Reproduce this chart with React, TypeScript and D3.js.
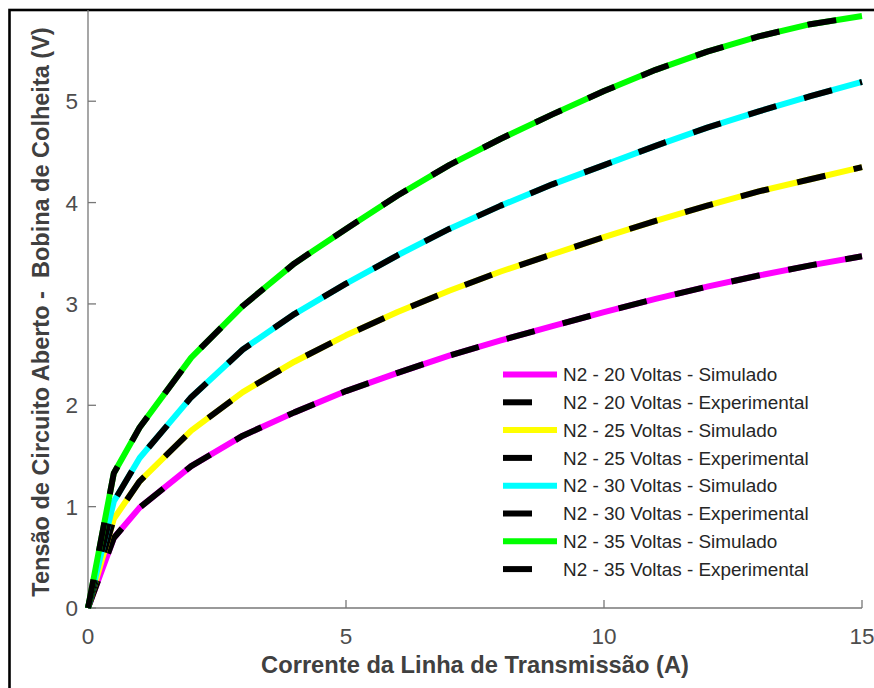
import React from "react";
import * as d3 from "d3";

const currents = [0, 0.5, 1, 2, 3, 4, 5, 6, 7, 8, 9, 10, 11, 12, 13, 14, 15];

const sim20 = [0, 0.69, 0.99, 1.4, 1.7, 1.93, 2.14, 2.32, 2.49, 2.64, 2.78, 2.92, 3.05, 3.17, 3.28, 3.38, 3.47];
const exp20 = [0, 0.69, 0.99, 1.4, 1.7, 1.93, 2.14, 2.32, 2.49, 2.64, 2.78, 2.92, 3.05, 3.17, 3.28, 3.38, 3.47];
const sim25 = [0, 0.88, 1.25, 1.75, 2.13, 2.43, 2.69, 2.92, 3.13, 3.32, 3.49, 3.66, 3.82, 3.97, 4.11, 4.23, 4.35];
const exp25 = [0, 0.88, 1.25, 1.75, 2.13, 2.43, 2.69, 2.92, 3.13, 3.32, 3.49, 3.66, 3.82, 3.97, 4.11, 4.23, 4.35];
const sim30 = [0, 1.05, 1.48, 2.08, 2.55, 2.9, 3.2, 3.48, 3.74, 3.97, 4.18, 4.37, 4.56, 4.74, 4.9, 5.05, 5.19];
const exp30 = [0, 1.05, 1.48, 2.08, 2.55, 2.9, 3.2, 3.48, 3.74, 3.97, 4.18, 4.37, 4.56, 4.74, 4.9, 5.05, 5.19];
const sim35 = [0, 1.33, 1.78, 2.47, 2.98, 3.4, 3.74, 4.07, 4.37, 4.63, 4.87, 5.1, 5.31, 5.49, 5.64, 5.76, 5.84];
const exp35 = [0, 1.33, 1.78, 2.47, 2.98, 3.4, 3.74, 4.07, 4.37, 4.63, 4.87, 5.1, 5.31, 5.49, 5.64, 5.76, 5.84];

const seriesLabels = [
  "N2 - 20 Voltas - Simulado",
  "N2 - 20 Voltas - Experimental",
  "N2 - 25 Voltas - Simulado",
  "N2 - 25 Voltas - Experimental",
  "N2 - 30 Voltas - Simulado",
  "N2 - 30 Voltas - Experimental",
  "N2 - 35 Voltas - Simulado",
  "N2 - 35 Voltas - Experimental",
];
const seriesValues = [sim20, exp20, sim25, exp25, sim30, exp30, sim35, exp35];
const seriesColors = ["#ff00ff", "#000000", "#ffff00", "#000000", "#00ffff", "#000000", "#00ff00", "#000000"];
const seriesDashed = [false, true, false, true, false, true, false, true];

const xTicks = [0, 5, 10, 15];
const yTicks = [0, 1, 2, 3, 4, 5];

const xLabel = "Corrente da Linha de Transmissão (A)";
const yLabel = "Tensão de Circuito Aberto -  Bobina de Colheita (V)";

const W = 874;
const H = 688;
const FONT = "Arial, 'Liberation Sans', Helvetica, sans-serif";

export default function App() {
  const x = d3.scaleLinear().domain([0, 15]).range([88, 862]);
  const y = d3.scaleLinear().domain([0, 5.9]).range([608, 10]);
  const line = d3
    .line<[number, number]>()
    .x((d) => x(d[0]))
    .y((d) => y(d[1]));

  const axisColor = "#777";
  const tickText = "#4d4d4d";
  const legendX = 503;
  const legendY0 = 374.5;
  const legendStep = 27.8;

  return (
    <svg
      width={W}
      height={H}
      style={{ position: "absolute", left: 0, top: 0, background: "#fff" }}
      fontFamily={FONT}
    >
      <rect x={0} y={0} width={W} height={H} fill="#fff" />
      {/* outer frame */}
      <rect x={9.5} y={10} width={W + 20} height={H + 20} fill="none" stroke="#000" strokeWidth={2.6} />

      {/* axes */}
      <line x1={x(0)} x2={x(0)} y1={y(0)} y2={y(5.9)} stroke={axisColor} strokeWidth={1.3} />
      <line x1={x(0)} x2={x(15)} y1={y(0)} y2={y(0)} stroke={axisColor} strokeWidth={1.3} />
      {yTicks.map((t) => (
        <g key={"y" + t}>
          <line x1={x(0)} x2={x(0) + 8} y1={y(t)} y2={y(t)} stroke={axisColor} strokeWidth={1.3} />
          <text x={78} y={y(t)} dy="0.36em" textAnchor="end" fontSize={22.5} fill={tickText}>
            {t}
          </text>
        </g>
      ))}
      {xTicks.map((t) => (
        <g key={"x" + t}>
          <line x1={x(t)} x2={x(t)} y1={y(0)} y2={y(0) - 8} stroke={axisColor} strokeWidth={1.3} />
          <text x={x(t)} y={644} textAnchor="middle" fontSize={22.5} fill={tickText}>
            {t}
          </text>
        </g>
      ))}

      {/* series */}
      {seriesValues.map((vals, i) => (
        <path
          key={"s" + i}
          d={line(currents.map((c, j) => [c, vals[j]] as [number, number])) || ""}
          fill="none"
          stroke={seriesColors[i]}
          strokeWidth={6}
          strokeDasharray={seriesDashed[i] ? "29 29" : undefined}
          strokeLinejoin="round"
        />
      ))}

      {/* legend */}
      {seriesLabels.map((lab, i) => {
        const ly = legendY0 + i * legendStep;
        return (
          <g key={"l" + i}>
            <line
              x1={legendX}
              x2={legendX + 54}
              y1={ly}
              y2={ly}
              stroke={seriesColors[i]}
              strokeWidth={6}
              strokeDasharray={seriesDashed[i] ? "29 29" : undefined}
            />
            <text x={563} y={ly} dy="0.35em" fontSize={18.9} fill="#262626">
              {lab}
            </text>
          </g>
        );
      })}

      {/* axis labels */}
      <text x={475} y={673} textAnchor="middle" fontSize={23.7} fontWeight="bold" fill="#404040">
        {xLabel}
      </text>
      <text
        transform={`translate(49,312) rotate(-90)`}
        textAnchor="middle"
        fontSize={23.5}
        fontWeight="bold"
        fill="#404040"
        style={{ whiteSpace: "pre" }}
      >
        {yLabel}
      </text>
    </svg>
  );
}
